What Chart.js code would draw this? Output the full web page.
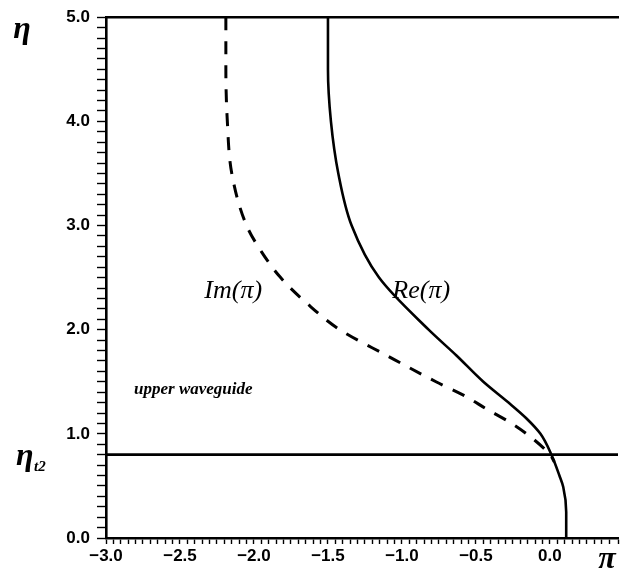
<!DOCTYPE html>
<html>
<head>
<meta charset="utf-8">
<script src="https://cdn.jsdelivr.net/npm/chart.js@4/dist/chart.umd.min.js"></script>
<style>
    html, body { margin: 0; padding: 0; background: #fff; }
    #wrap { width: 620px; height: 573px; }
</style>
</head>
<body>
<div id="wrap"><canvas id="waveguide"></canvas></div>
<script>
// eta (vertical) and pi (horizontal) values
const reEta = [5.0, 4.5, 4.0, 3.5, 3.0, 2.5, 2.0, 1.75, 1.5, 1.3, 1.15, 1.0, 0.8, 0.6, 0.49, 0.25, 0.0]
const rePi  = [-1.50, -1.50, -1.48, -1.43, -1.34, -1.155, -0.82, -0.63, -0.45, -0.28, -0.16, -0.064, 0.01, 0.064, 0.09, 0.11, 0.11]

const imEta = [5.0, 4.5, 4.0, 3.5, 3.0, 2.75, 2.5, 2.25, 2.0, 1.75, 1.5, 1.36, 1.24, 1.11, 0.97, 0.8, 0.73]
const imPi  = [-2.19, -2.19, -2.18, -2.15, -2.05, -1.95, -1.82, -1.64, -1.42, -1.1, -0.77, -0.57, -0.43, -0.27, -0.13, 0.0, 0.03]

const etaT2 = 0.8
const xMin = -3.0
const xMax = 0.46

const toPoints = (xs, ys) => xs.map((x, i) => { return { x: x, y: ys[i] } })

const textPlugin = {
    id: "figureText",
    afterDraw: (chart) => {
        const ctx = chart.ctx
        const x = chart.scales.x
        const y = chart.scales.y
        ctx.save()
        ctx.fillStyle = "#000"
        ctx.textBaseline = "middle"
        ctx.textAlign = "center"

        ctx.font = "italic 26px 'Liberation Serif', serif"
        ctx.fillText("Im(\u03c0)", x.getPixelForValue(-2.14), y.getPixelForValue(2.37))
        ctx.fillText("Re(\u03c0)", x.getPixelForValue(-0.87), y.getPixelForValue(2.37))

        ctx.font = "bold italic 17px 'Liberation Serif', serif"
        ctx.fillText("upper waveguide", x.getPixelForValue(-2.41), y.getPixelForValue(1.42))

        // axis names
        ctx.font = "italic bold 32px 'Liberation Serif', serif"
        ctx.fillText("\u03b7", 22, 30)
        ctx.fillText("\u03c0", 607, 560)

        ctx.textAlign = "left"
        ctx.fillText("\u03b7", 16, y.getPixelForValue(etaT2) + 2)
        ctx.font = "italic bold 15px 'Liberation Serif', serif"
        ctx.fillText("t2", 34, y.getPixelForValue(etaT2) + 12)
        ctx.restore()
    }
}

const ctx = document.getElementById("waveguide").getContext("2d")

const config = {
    type: "line",
    data: {
        datasets: [
            {
                label: "Re",
                data: toPoints(rePi, reEta),
                indexAxis: "y",
                cubicInterpolationMode: "monotone",
                borderColor: "#000",
                borderWidth: 2.6,
                pointRadius: 0,
                fill: false
            },
            {
                label: "Im",
                data: toPoints(imPi, imEta),
                indexAxis: "y",
                cubicInterpolationMode: "monotone",
                borderColor: "#000",
                borderWidth: 3,
                borderDash: [13, 11],
                pointRadius: 0,
                fill: false
            },
            {
                label: "eta_t2",
                data: [{ x: xMin, y: etaT2 }, { x: xMax, y: etaT2 }],
                borderColor: "#000",
                borderWidth: 2.6,
                pointRadius: 0,
                fill: false
            }
        ]
    },
    options: {
        responsive: true,
        maintainAspectRatio: false,
        animation: false,
        layout: { padding: { top: 16, left: 0, right: 0, bottom: 0 } },
        plugins: {
            legend: { display: false },
            tooltip: { enabled: false }
        },
        scales: {
            x: {
                type: "linear",
                position: "bottom",
                min: xMin,
                max: xMax,
                afterFit: (scale) => { scale.height = 35 },
                border: { display: true, color: "#000", width: 2.6 },
                grid: { drawOnChartArea: false, drawTicks: true, tickLength: 6, tickColor: "#000", tickWidth: 1.4 },
                ticks: {
                    stepSize: 0.05,
                    autoSkip: false,
                    maxTicksLimit: 1000,
                    maxRotation: 0,
                    padding: 2,
                    color: "#000",
                    font: { family: "'Liberation Sans', Arial, sans-serif", size: 17, weight: "bold" },
                    callback: (value) => {
                        const v = Number(value)
                        if (Math.abs(v * 2 - Math.round(v * 2)) > 1e-6 || v > 0.01) return ""
                        return (v < -0.01 ? "\u2212" : "") + Math.abs(v).toFixed(1)
                    }
                }
            },
            xTop: {
                type: "linear",
                position: "top",
                min: xMin,
                max: xMax,
                afterFit: (scale) => { scale.height = 0 },
                border: { display: true, color: "#000", width: 2.6 },
                grid: { display: false, drawTicks: false },
                ticks: { display: false }
            },
            y: {
                type: "linear",
                min: 0,
                max: 5,
                afterFit: (scale) => { scale.width = 106 },
                border: { display: true, color: "#000", width: 2.6 },
                grid: { drawOnChartArea: false, drawTicks: true, tickLength: 9, tickColor: "#000", tickWidth: 1.4 },
                ticks: {
                    stepSize: 0.1,
                    autoSkip: false,
                    maxTicksLimit: 1000,
                    padding: 7,
                    color: "#000",
                    font: { family: "'Liberation Sans', Arial, sans-serif", size: 17, weight: "bold" },
                    callback: (value) => {
                        const v = Number(value)
                        if (Math.abs(v - Math.round(v)) > 1e-6) return ""
                        return v.toFixed(1)
                    }
                }
            }
        }
    },
    plugins: [textPlugin]
}

const waveguideChart = new Chart(ctx, config)
</script>
</body>
</html>
